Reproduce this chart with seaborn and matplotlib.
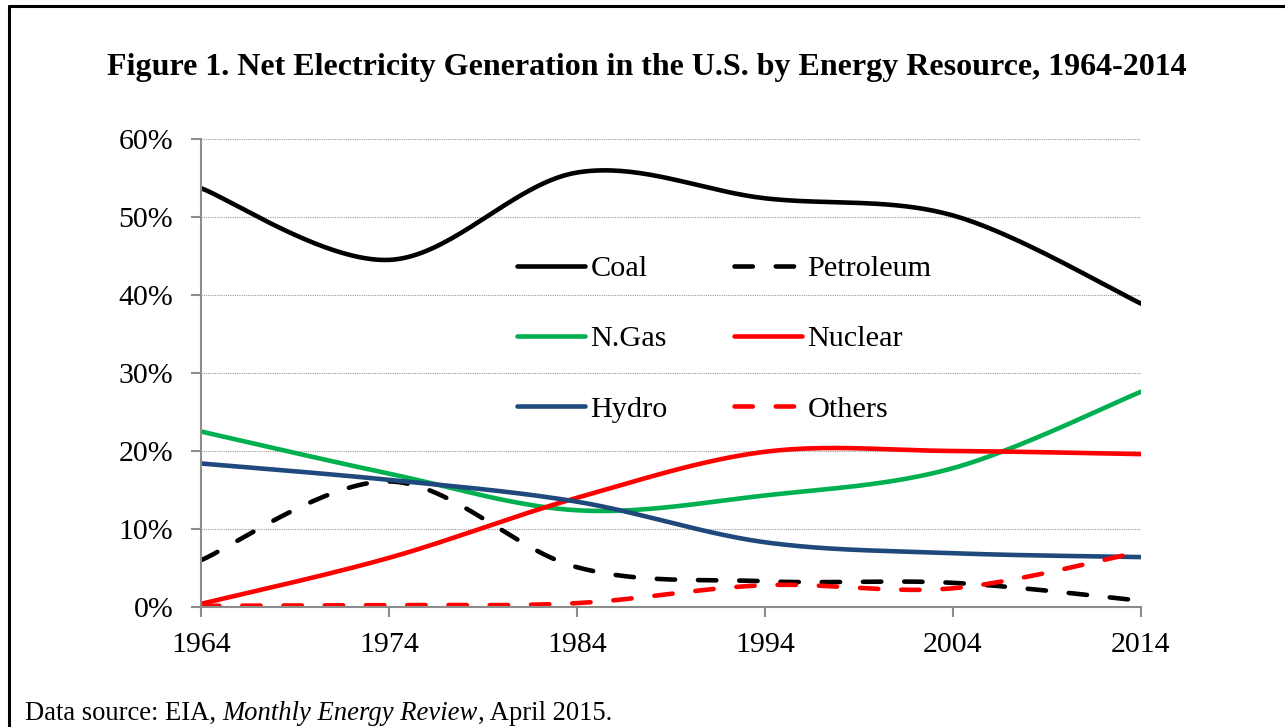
import numpy as np
import pandas as pd
import matplotlib
matplotlib.use("Agg")
import matplotlib.pyplot as plt
import seaborn as sns
from matplotlib.lines import Line2D
from matplotlib.ticker import FuncFormatter

# ---------------- data (share of net generation, %) ----------------
years = [1964, 1974, 1984, 1994, 2004, 2014]
coal = [53.7, 44.5, 55.7, 52.4, 50.2, 38.9]
petroleum = [6.0, 16.1, 5.1, 3.3, 3.1, 0.8]
natural_gas = [22.5, 17.1, 12.4, 14.3, 17.8, 27.6]
nuclear = [0.4, 6.3, 14.0, 19.9, 20.0, 19.6]
hydro = [18.4, 16.3, 13.5, 8.3, 6.9, 6.4]
others = [0.15, 0.25, 0.5, 2.8, 2.4, 7.1]
labels = ["Coal", "Petroleum", "N.Gas", "Nuclear", "Hydro", "Others"]
x_ticks = [1964, 1974, 1984, 1994, 2004, 2014]
y_ticks = [0, 10, 20, 30, 40, 50, 60]

series = {"Coal": coal, "Petroleum": petroleum, "N.Gas": natural_gas,
          "Nuclear": nuclear, "Hydro": hydro, "Others": others}
styles = {
    "Coal": dict(color="#000000", ls="-"),
    "Petroleum": dict(color="#000000", ls=(0, (4, 5))),
    "N.Gas": dict(color="#00B050", ls="-"),
    "Nuclear": dict(color="#FF0000", ls="-"),
    "Hydro": dict(color="#1F497D", ls="-"),
    "Others": dict(color="#FF0000", ls=(0, (4, 5))),
}


def smooth(xv, yv, n=40):
    """Excel-style smoothed line (Catmull-Rom Bezier through the points)."""
    p = np.column_stack([xv, yv]).astype(float)
    ext = np.vstack([p[0], p, p[-1]])
    out = []
    t = np.linspace(0, 1, n)[:, None]
    for i in range(len(p) - 1):
        p0, p3 = ext[i + 1], ext[i + 2]
        c1 = p0 + (ext[i + 2] - ext[i]) / 6.0
        c2 = p3 - (ext[i + 3] - ext[i + 1]) / 6.0
        seg = ((1 - t) ** 3) * p0 + 3 * ((1 - t) ** 2) * t * c1 + 3 * (1 - t) * t ** 2 * c2 + t ** 3 * p3
        out.append(seg if i == 0 else seg[1:])
    arr = np.vstack(out)
    return arr[:, 0], arr[:, 1]


sns.set_theme(style="white")
plt.rcParams["font.family"] = ["Liberation Serif", "DejaVu Serif"]
plt.rcParams["text.color"] = "black"
plt.rcParams["xtick.labelcolor"] = "black"
plt.rcParams["ytick.labelcolor"] = "black"

W, H = 1285, 727
fig = plt.figure(figsize=(W / 100, H / 100), dpi=100)
ax = fig.add_axes([201 / W, 1 - 607 / H, (1141 - 201) / W, (607 - 139) / H])

lw = 3.3
for name in labels:
    xs, ys = smooth(years, series[name])
    df = pd.DataFrame({"year": xs, "share": ys})
    st = styles[name]
    sns.lineplot(data=df, x="year", y="share", ax=ax, color=st["color"],
                 linewidth=lw, linestyle=st["ls"], sort=False,
                 estimator=None, legend=False,
                 solid_capstyle="round", dash_capstyle="round")

ax.set_xlim(1964, 2014)
ax.set_ylim(0, 60)
ax.set_xticks(x_ticks)
ax.set_yticks(y_ticks)
ax.yaxis.set_major_formatter(FuncFormatter(lambda v, p: f"{int(v)}%"))
ax.set_xlabel("")
ax.set_ylabel("")

for s in ["top", "right"]:
    ax.spines[s].set_visible(False)
for s in ["left", "bottom"]:
    ax.spines[s].set_color("#8C8C8C")
    ax.spines[s].set_linewidth(1.5)

ax.grid(axis="y", color="#9A9A9A", linestyle=(0, (1, 1)), linewidth=0.8)
ax.grid(axis="x", visible=False)
ax.set_axisbelow(True)
ax.tick_params(axis="both", which="major", direction="out", length=7,
               width=1.5, color="#8C8C8C", labelsize=21.5, labelcolor="black",
               left=True, bottom=True)
ax.tick_params(axis="y", pad=13)
ax.tick_params(axis="x", pad=11)
ax.set_facecolor("white")

# legend
order = ["Coal", "N.Gas", "Hydro", "Petroleum", "Nuclear", "Others"]
handles = [Line2D([0], [0], color=styles[n]["color"], lw=lw, ls=styles[n]["ls"],
                  solid_capstyle="round", dash_capstyle="round") for n in order]
leg = ax.legend(handles, order, ncol=2, loc="upper left",
                bbox_to_anchor=(517 / W, 1 - 255 / H), bbox_transform=fig.transFigure,
                frameon=False, fontsize=21.8, handlelength=2.25, handletextpad=0.17,
                columnspacing=2.2, labelspacing=1.42, borderpad=0, borderaxespad=0)

# title
fig.text(647 / W, 1 - 67 / H,
         "Figure 1. Net Electricity Generation in the U.S. by Energy Resource, 1964-2014",
         ha="center", va="center", fontsize=23, fontweight="bold", color="black")

# data source with italic part
renderer = fig.canvas.get_renderer()
xpos = 25 / W
ypos = 1 - 713 / H
parts = [("Data source: EIA, ", "normal"), ("Monthly Energy Review", "italic"),
         (", April 2015.", "normal")]
for txt, style in parts:
    t = fig.text(xpos, ypos, txt, ha="left", va="center", fontsize=19.2, style=style,
                 color="black")
    bb = t.get_window_extent(renderer=renderer)
    xpos += bb.width / W

# figure border (left and top edges visible)
fig.add_artist(Line2D([9 / W, 9 / W], [-0.01, 1 - 6 / H], transform=fig.transFigure,
                      color="black", lw=2.2))
fig.add_artist(Line2D([9 / W, 1.01], [1 - 6 / H, 1 - 6 / H], transform=fig.transFigure,
                      color="black", lw=2.2))

fig.savefig("out.png", dpi=100, facecolor="white")
